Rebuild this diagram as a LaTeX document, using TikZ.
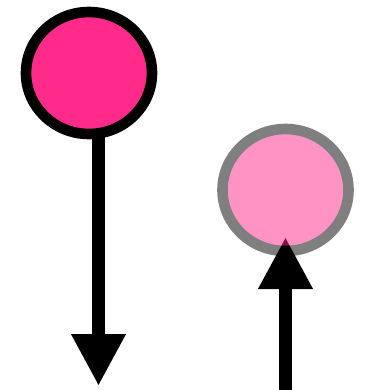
\documentclass[tikz,border=0pt]{standalone}
\usetikzlibrary{arrows.meta,shapes.geometric}
\definecolor{hotpink}{RGB}{255,42,138}
\tikzset{
  ball/.style={ellipse, draw=black, fill=hotpink, line width=10.6pt, minimum width=126pt, minimum height=122pt, inner sep=0pt},
  stem/.style={line width=13pt, -{Triangle[length=52pt,width=51pt]}},
}
\begin{document}
\begin{tikzpicture}[x=1pt,y=-1pt]
\useasboundingbox (0,0) rectangle (381,390);
% left
\coordinate (astart) at (98.5,73);
\coordinate (aend) at (98.5,386);
\draw[stem] (astart) -- (aend);
\node[ball] (a) at (89,73) {};
% right
\coordinate (bstart) at (285.5,392);
\coordinate (btip) at (285.5,237);
\draw[stem] (bstart) -- (btip);
\begin{scope}[transparency group, opacity=0.5]
\node[ball] (b) at (285.5,190) {};
\end{scope}
\end{tikzpicture}
\end{document}
